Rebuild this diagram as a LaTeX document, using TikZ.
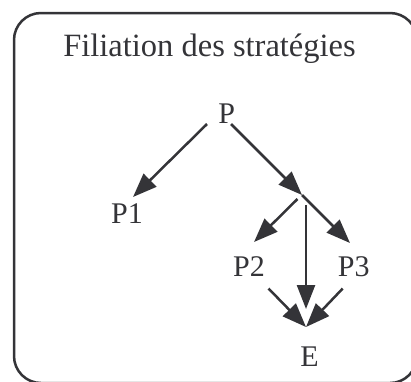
\documentclass[tikz,border=0pt]{standalone}
\usepackage{fontspec}
\setmainfont{Liberation Serif}
\usetikzlibrary{arrows.meta,calc}
\definecolor{ink}{RGB}{52,52,56}
\begin{document}
\begin{tikzpicture}[x=1pt,y=1pt,
  lbl/.style={inner sep=0pt, anchor=base, text=ink, font=\fontsize{30}{36}\selectfont},
  arr/.style={draw=ink, line width=2.5pt, -{Triangle[length=24pt,width=18pt]}},
  frame/.style={draw=ink, line width=2.5pt, rounded corners=27pt}]
\useasboundingbox (0,0) rectangle (411,-381);
\draw[frame] (14,-13) rectangle (417,-383);
\node[lbl, font=\fontsize{32.5}{39}\selectfont] (title) at (209.5,-56.7) {Filiation des stratégies};
\node[lbl] (P) at (226.7,-123.3) {P};
\node[lbl] (P1) at (127,-223) {P1};
\node[lbl] (P2) at (249,-276.5) {P2};
\node[lbl] (P3) at (353.7,-276.5) {P3};
\node[lbl] (E) at (309.5,-366) {E};
\coordinate (B) at (302,-195);
\draw[arr] ($(P.base)+(-19.7,-0.7)$) -- ($(P1.base)+(6,26)$);
\draw[arr] ($(P.base)+(4.3,-0.7)$) -- (B);
\draw[arr] (B) -- ($(P3.base)+(-3.7,33.5)$);
\draw[arr] ($(B)+(-4.5,-4)$) -- ($(P2.base)+(5,34.5)$);
\draw[arr] ($(B)+(4,-10)$) -- ($(E.base)+(-3.5,57)$);
\draw[arr] ($(P2.base)+(19.5,-12)$) -- ($(E.base)+(-3.5,39)$);
\draw[arr] ($(P3.base)+(-11,-12)$) -- ($(E.base)+(-3.5,39)$);
\end{tikzpicture}
\end{document}
